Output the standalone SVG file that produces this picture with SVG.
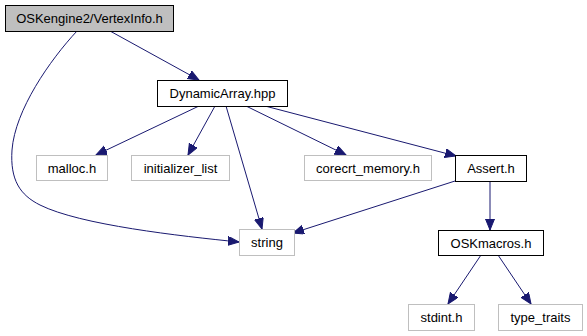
<svg xmlns="http://www.w3.org/2000/svg" width="587" height="336" viewBox="0 0 587 336">
  <style>
    .box { fill: #ffffff; stroke: #000000; stroke-width: 1; }
    .ext { fill: #ffffff; stroke: #bfbfbf; stroke-width: 1; }
    .root { fill: #bfbfbf; stroke: #000000; stroke-width: 1; }
    .lbl { font-family: "Liberation Sans", Arial, sans-serif; font-size: 13px; fill: #000000; text-anchor: middle; }
    .edge { fill: none; stroke: #191970; stroke-width: 1; }
  </style>
  <defs>
    <marker id="arrow" markerUnits="userSpaceOnUse" markerWidth="12" markerHeight="10" refX="11" refY="4.5" orient="auto">
      <path d="M0,0 L11,4.5 L0,9 Z" fill="#191970" stroke="#191970" stroke-width="1"/>
    </marker>
  </defs>

  <g id="connectors">
    <path class="edge" marker-end="url(#arrow)" d="M110,31 L199,80"/>
    <path class="edge" marker-end="url(#arrow)" d="M77,31 C50,60 15,110 12,150 C10,180 20,195 40,205 C80,225 180,236 239,242"/>
    <path class="edge" marker-end="url(#arrow)" d="M199,106 L96,155"/>
    <path class="edge" marker-end="url(#arrow)" d="M215,106 L188,155"/>
    <path class="edge" marker-end="url(#arrow)" d="M226,106 L262,229"/>
    <path class="edge" marker-end="url(#arrow)" d="M246,106 L346,155"/>
    <path class="edge" marker-end="url(#arrow)" d="M265,106 L456,156"/>
    <path class="edge" marker-end="url(#arrow)" d="M455,181 L293,233"/>
    <path class="edge" marker-end="url(#arrow)" d="M490,181 L490,230"/>
    <path class="edge" marker-end="url(#arrow)" d="M481,255 L448,304"/>
    <path class="edge" marker-end="url(#arrow)" d="M498,255 L531,304"/>
  </g>

  <g id="node-vertexinfo">
    <rect class="root" x="5.5" y="5.5" width="168" height="26"/>
    <text class="lbl" x="89.5" y="23">OSKengine2/VertexInfo.h</text>
  </g>
  <g id="node-dynamicarray">
    <rect class="box" x="157.5" y="80.5" width="130" height="26"/>
    <text class="lbl" x="222.5" y="98">DynamicArray.hpp</text>
  </g>
  <g id="node-malloc">
    <rect class="ext" x="36.5" y="155.5" width="71" height="25"/>
    <text class="lbl" x="72" y="173">malloc.h</text>
  </g>
  <g id="node-initializer-list">
    <rect class="ext" x="131.5" y="155.5" width="98" height="25"/>
    <text class="lbl" x="180.5" y="173">initializer_list</text>
  </g>
  <g id="node-string">
    <rect class="ext" x="239.5" y="229.5" width="55" height="26"/>
    <text class="lbl" x="267" y="247">string</text>
  </g>
  <g id="node-corecrt-memory">
    <rect class="ext" x="304.5" y="155.5" width="127" height="25"/>
    <text class="lbl" x="368" y="173">corecrt_memory.h</text>
  </g>
  <g id="node-assert">
    <rect class="box" x="455.5" y="155.5" width="71" height="26"/>
    <text class="lbl" x="491" y="173">Assert.h</text>
  </g>
  <g id="node-oskmacros">
    <rect class="box" x="438.5" y="230.5" width="105" height="25"/>
    <text class="lbl" x="491" y="248">OSKmacros.h</text>
  </g>
  <g id="node-stdint">
    <rect class="ext" x="408.5" y="304.5" width="66" height="26"/>
    <text class="lbl" x="441.5" y="322">stdint.h</text>
  </g>
  <g id="node-type-traits">
    <rect class="ext" x="498.5" y="304.5" width="84" height="26"/>
    <text class="lbl" x="540.5" y="322">type_traits</text>
  </g>
</svg>
